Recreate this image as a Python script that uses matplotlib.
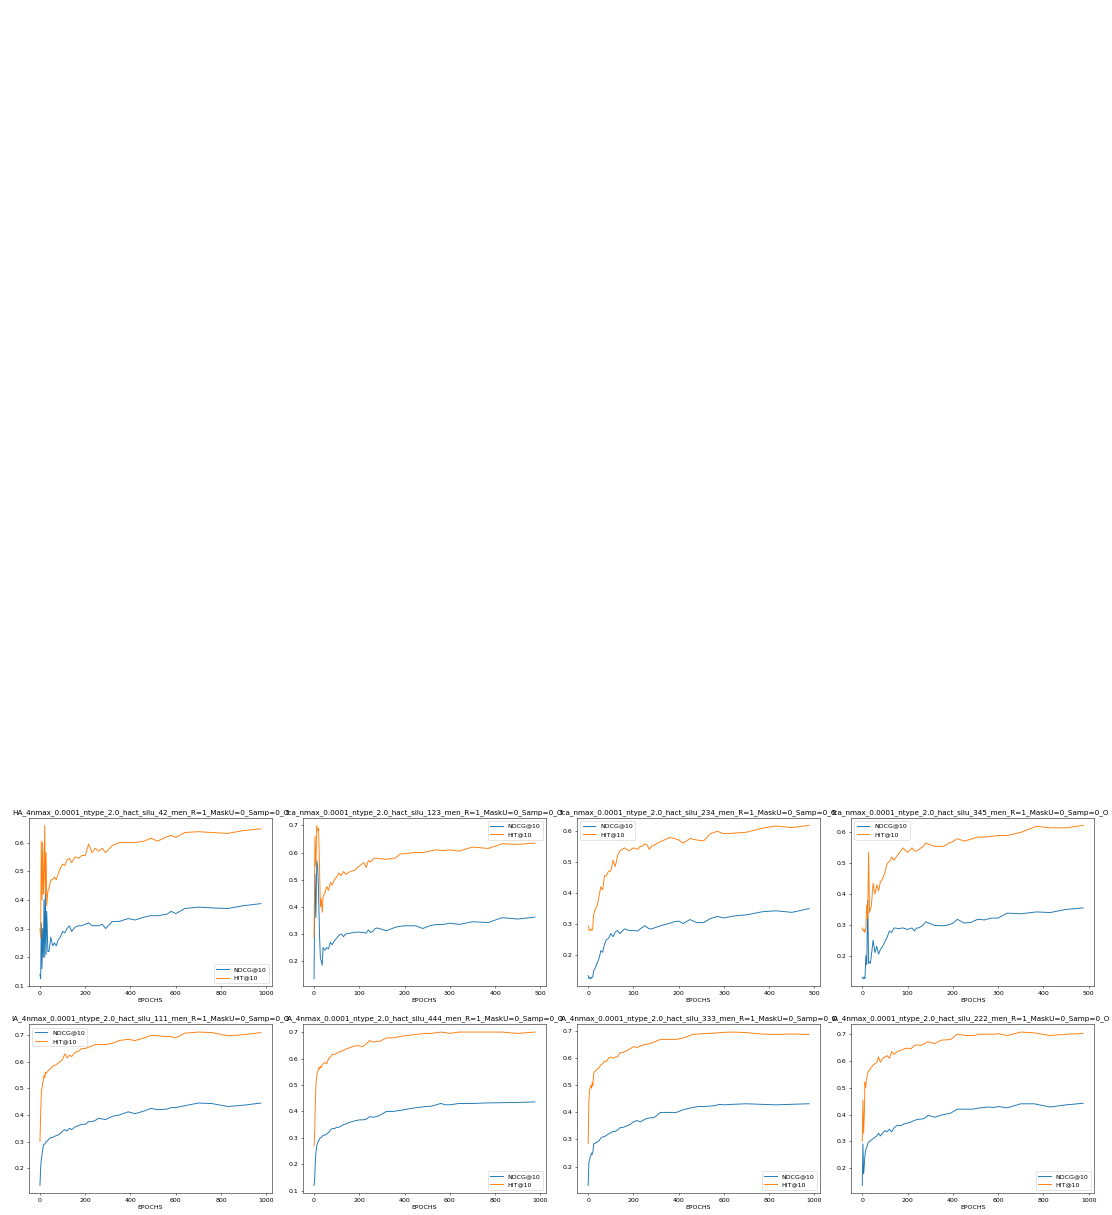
import matplotlib
matplotlib.use('Agg')
import matplotlib.pyplot as plt

#epochs at which the metrics were logged
x_long = [0, 3, 6, 9, 12, 15, 18, 21, 24, 27, 30,
          35, 40, 48, 56, 64,
          72, 80, 90, 100, 110, 120,
          130, 140, 155, 170,
          185, 200, 215, 230, 245, 260,
          275, 290, 320, 350, 390,
          420, 460, 490, 520, 560, 580,
          600, 640, 700, 760, 830, 900, 976]
x_short = [0, 2, 4, 6, 8, 10, 12, 14, 16, 18, 20,
           24, 28, 32, 36, 40,
           45, 50, 55, 60, 65, 70,
           80, 90, 100, 110,
           115, 120, 125, 130, 135, 140,
           160, 180, 190, 200, 210,
           225, 240, 255, 270, 285, 300,
           320, 350, 385, 415, 450, 488]

titles = ['HA_4nmax_0.0001_ntype_2.0_hact_silu_42_men_R=1_MaskU=0_Samp=0_O',
          'fca_nmax_0.0001_ntype_2.0_hact_silu_123_men_R=1_MaskU=0_Samp=0_O',
          'fca_nmax_0.0001_ntype_2.0_hact_silu_234_men_R=1_MaskU=0_Samp=0_O',
          'fca_nmax_0.0001_ntype_2.0_hact_silu_345_men_R=1_MaskU=0_Samp=0_O',
          'IA_4nmax_0.0001_ntype_2.0_hact_silu_111_men_R=1_MaskU=0_Samp=0_O',
          'IA_4nmax_0.0001_ntype_2.0_hact_silu_444_men_R=1_MaskU=0_Samp=0_O',
          'IA_4nmax_0.0001_ntype_2.0_hact_silu_333_men_R=1_MaskU=0_Samp=0_O',
          'IA_4nmax_0.0001_ntype_2.0_hact_silu_222_men_R=1_MaskU=0_Samp=0_O']

#run 42
ndcg_1 = [0.14, 0.125, 0.32, 0.16, 0.30, 0.20, 0.40, 0.20, 0.43, 0.21, 0.36,
          0.22, 0.22, 0.27, 0.24, 0.25,
          0.24, 0.26, 0.27, 0.29, 0.285, 0.30,
          0.31, 0.29, 0.305, 0.31,
          0.31, 0.315, 0.32, 0.31, 0.31, 0.31,
          0.315, 0.30, 0.325, 0.325, 0.335,
          0.33, 0.34, 0.345, 0.345, 0.35, 0.36,
          0.352, 0.37, 0.375, 0.372, 0.37, 0.38, 0.387]
hit_1 = [0.30, 0.27, 0.605, 0.40, 0.60, 0.42, 0.48, 0.66, 0.42, 0.565, 0.38,
         0.43, 0.44, 0.47, 0.47, 0.48,
         0.47, 0.49, 0.51, 0.525, 0.52, 0.54,
         0.545, 0.53, 0.55, 0.545,
         0.555, 0.555, 0.595, 0.565, 0.58, 0.57,
         0.58, 0.565, 0.59, 0.60, 0.60,
         0.60, 0.605, 0.615, 0.605, 0.62, 0.625,
         0.618, 0.635, 0.638, 0.635, 0.632, 0.642, 0.648]

#run 123
ndcg_2 = [0.135, 0.52, 0.36, 0.57, 0.55, 0.45, 0.30, 0.21, 0.20, 0.185, 0.25,
          0.24, 0.25, 0.245, 0.27, 0.26,
          0.275, 0.285, 0.295, 0.30, 0.29, 0.30,
          0.303, 0.306, 0.307, 0.305,
          0.303, 0.315, 0.305, 0.31, 0.32, 0.322,
          0.312, 0.325, 0.328, 0.33, 0.33,
          0.33, 0.32, 0.33, 0.335, 0.335, 0.34,
          0.335, 0.345, 0.342, 0.36, 0.355, 0.362]
hit_2 = [0.29, 0.66, 0.55, 0.70, 0.68, 0.69, 0.55, 0.40, 0.43, 0.38, 0.44,
         0.45, 0.475, 0.46, 0.49, 0.48,
         0.50, 0.51, 0.525, 0.515, 0.53, 0.52,
         0.53, 0.535, 0.55, 0.563,
         0.545, 0.57, 0.565, 0.575, 0.58, 0.578,
         0.575, 0.58, 0.595, 0.595, 0.598,
         0.60, 0.60, 0.605, 0.61, 0.607, 0.61,
         0.605, 0.62, 0.615, 0.632, 0.63, 0.635]

#run 234
ndcg_3 = [0.135, 0.125, 0.13, 0.125, 0.13, 0.13, 0.15, 0.155, 0.16, 0.17, 0.175,
          0.19, 0.215, 0.21, 0.235, 0.25,
          0.255, 0.27, 0.26, 0.275, 0.28, 0.27,
          0.285, 0.28, 0.28, 0.278,
          0.285, 0.29, 0.295, 0.29, 0.285, 0.285,
          0.295, 0.303, 0.308, 0.31, 0.302,
          0.315, 0.305, 0.305, 0.318, 0.325, 0.32,
          0.326, 0.33, 0.34, 0.343, 0.338, 0.35]
hit_3 = [0.295, 0.28, 0.28, 0.285, 0.28, 0.285, 0.33, 0.34, 0.35, 0.355, 0.36,
         0.39, 0.42, 0.41, 0.455, 0.455,
         0.47, 0.47, 0.505, 0.485, 0.52, 0.535,
         0.545, 0.535, 0.545, 0.54,
         0.55, 0.55, 0.558, 0.555, 0.54, 0.55,
         0.565, 0.578, 0.575, 0.57, 0.56,
         0.575, 0.57, 0.567, 0.59, 0.598, 0.59,
         0.592, 0.595, 0.608, 0.615, 0.61, 0.617]

#run 345
ndcg_4 = [0.13, 0.125, 0.13, 0.125, 0.20, 0.17, 0.38, 0.175, 0.18, 0.175, 0.20,
          0.25, 0.21, 0.23, 0.205, 0.22,
          0.23, 0.245, 0.26, 0.28, 0.275, 0.29,
          0.288, 0.29, 0.285, 0.29,
          0.28, 0.29, 0.29, 0.295, 0.30, 0.31,
          0.298, 0.297, 0.30, 0.305, 0.318,
          0.306, 0.308, 0.318, 0.316, 0.322, 0.322,
          0.338, 0.336, 0.342, 0.34, 0.35, 0.355]
hit_4 = [0.29, 0.28, 0.285, 0.275, 0.29, 0.365, 0.32, 0.535, 0.34, 0.35, 0.36,
         0.435, 0.40, 0.43, 0.41, 0.44,
         0.45, 0.47, 0.50, 0.505, 0.52, 0.51,
         0.53, 0.55, 0.535, 0.55,
         0.54, 0.54, 0.545, 0.55, 0.555, 0.565,
         0.555, 0.555, 0.565, 0.57, 0.58,
         0.572, 0.578, 0.585, 0.585, 0.587, 0.59,
         0.59, 0.60, 0.62, 0.615, 0.615, 0.623]

#run 111
ndcg_5 = [0.135, 0.20, 0.235, 0.25, 0.27, 0.285, 0.29, 0.29, 0.295, 0.30, 0.30,
          0.305, 0.31, 0.315, 0.315, 0.32,
          0.322, 0.325, 0.33, 0.34, 0.345, 0.34,
          0.35, 0.345, 0.355, 0.36,
          0.365, 0.365, 0.375, 0.375, 0.38, 0.388,
          0.385, 0.383, 0.395, 0.40, 0.412,
          0.405, 0.415, 0.425, 0.42, 0.422, 0.428,
          0.428, 0.435, 0.445, 0.443, 0.432, 0.437, 0.445]
hit_5 = [0.30, 0.40, 0.48, 0.50, 0.52, 0.53, 0.55, 0.54, 0.56, 0.555, 0.56,
         0.565, 0.57, 0.575, 0.585, 0.585,
         0.59, 0.595, 0.60, 0.61, 0.63, 0.615,
         0.625, 0.62, 0.635, 0.64,
         0.65, 0.65, 0.655, 0.66, 0.665, 0.665,
         0.665, 0.665, 0.67, 0.68, 0.685,
         0.68, 0.69, 0.70, 0.698, 0.695, 0.695,
         0.69, 0.708, 0.712, 0.71, 0.698, 0.702, 0.71]

#run 444
ndcg_6 = [0.12, 0.15, 0.22, 0.25, 0.27, 0.28, 0.285, 0.29, 0.295, 0.30, 0.30,
          0.305, 0.31, 0.31, 0.315, 0.32,
          0.33, 0.335, 0.335, 0.34, 0.34, 0.345,
          0.35, 0.352, 0.358, 0.362,
          0.365, 0.368, 0.368, 0.37, 0.38, 0.378,
          0.38, 0.385, 0.40, 0.40, 0.405,
          0.41, 0.415, 0.418, 0.42, 0.43, 0.425,
          0.425, 0.43, 0.43, 0.432, 0.433, 0.434, 0.436]
hit_6 = [0.27, 0.33, 0.45, 0.51, 0.535, 0.545, 0.555, 0.565, 0.56, 0.57, 0.565,
         0.575, 0.58, 0.585, 0.58, 0.60,
         0.605, 0.615, 0.615, 0.62, 0.625, 0.628,
         0.63, 0.635, 0.64, 0.645,
         0.648, 0.648, 0.645, 0.655, 0.668, 0.662,
         0.665, 0.665, 0.678, 0.678, 0.685,
         0.688, 0.692, 0.695, 0.695, 0.70, 0.698,
         0.695, 0.70, 0.70, 0.70, 0.70, 0.695, 0.70]

#run 333
ndcg_7 = [0.13, 0.21, 0.225, 0.235, 0.24, 0.25, 0.245, 0.255, 0.28, 0.285, 0.285,
          0.29, 0.29, 0.295, 0.305, 0.31,
          0.31, 0.315, 0.32, 0.325, 0.33, 0.33,
          0.335, 0.343, 0.345, 0.35,
          0.355, 0.365, 0.37, 0.365, 0.372, 0.378,
          0.38, 0.38, 0.40, 0.40, 0.40,
          0.41, 0.418, 0.422, 0.422, 0.425, 0.43,
          0.428, 0.43, 0.432, 0.43, 0.428, 0.43, 0.432]
hit_7 = [0.285, 0.44, 0.48, 0.49, 0.50, 0.49, 0.51, 0.50, 0.54, 0.55, 0.55,
         0.555, 0.56, 0.565, 0.575, 0.58,
         0.59, 0.588, 0.60, 0.605, 0.60, 0.605,
         0.605, 0.62, 0.622, 0.628,
         0.635, 0.643, 0.64, 0.645, 0.65, 0.652,
         0.655, 0.66, 0.67, 0.67, 0.67,
         0.675, 0.688, 0.69, 0.692, 0.693, 0.695,
         0.696, 0.697, 0.695, 0.69, 0.688, 0.69, 0.688]

#run 222
ndcg_8 = [0.135, 0.29, 0.18, 0.21, 0.25, 0.265, 0.275, 0.28, 0.29, 0.295, 0.30,
          0.30, 0.305, 0.31, 0.315, 0.32,
          0.33, 0.32, 0.33, 0.34, 0.335, 0.345,
          0.335, 0.35, 0.36, 0.358,
          0.365, 0.368, 0.372, 0.378, 0.382, 0.383,
          0.385, 0.397, 0.39, 0.398, 0.405,
          0.42, 0.42, 0.42, 0.425, 0.428, 0.426,
          0.43, 0.425, 0.44, 0.44, 0.428, 0.436, 0.442]
hit_8 = [0.30, 0.455, 0.33, 0.40, 0.52, 0.50, 0.53, 0.54, 0.555, 0.56, 0.565,
         0.57, 0.575, 0.585, 0.59, 0.595,
         0.615, 0.595, 0.61, 0.615, 0.62, 0.61,
         0.635, 0.625, 0.635, 0.64,
         0.645, 0.648, 0.645, 0.658, 0.66, 0.658,
         0.665, 0.672, 0.665, 0.678, 0.68,
         0.70, 0.695, 0.695, 0.70, 0.70, 0.70,
         0.702, 0.695, 0.708, 0.705, 0.695, 0.70, 0.703]

xs = [x_long, x_short, x_short, x_short, x_long, x_long, x_long, x_long]
ndcgs = [ndcg_1, ndcg_2, ndcg_3, ndcg_4, ndcg_5, ndcg_6, ndcg_7, ndcg_8]
hits = [hit_1, hit_2, hit_3, hit_4, hit_5, hit_6, hit_7, hit_8]
legend_locs = ['lower right', 'upper right', 'upper left', 'upper left',
               'upper left', 'lower right', 'lower right', 'lower right']

#small dpi so default font sizes come out as in the reference
fig, axes = plt.subplots(2, 4, figsize=(1112 / 45, 1215 / 45), dpi=45)
fig.subplots_adjust(left=0.026, right=0.984, bottom=0.018, top=0.327,
                    wspace=0.128, hspace=0.225)

for i, ax in enumerate(axes.flat):
    ax.plot(xs[i], ndcgs[i], label='NDCG@10')
    ax.plot(xs[i], hits[i], label='HIT@10')
    # last column: nudge title left so it stays inside the figure
    if i % 4 == 3:
        ax.set_title(titles[i], fontsize=11.6, x=0.49)
    else:
        ax.set_title(titles[i], fontsize=11.6)
    ax.set_xlabel('EPOCHS')
    ax.legend(loc=legend_locs[i])

plt.savefig('out.png', dpi=45)
